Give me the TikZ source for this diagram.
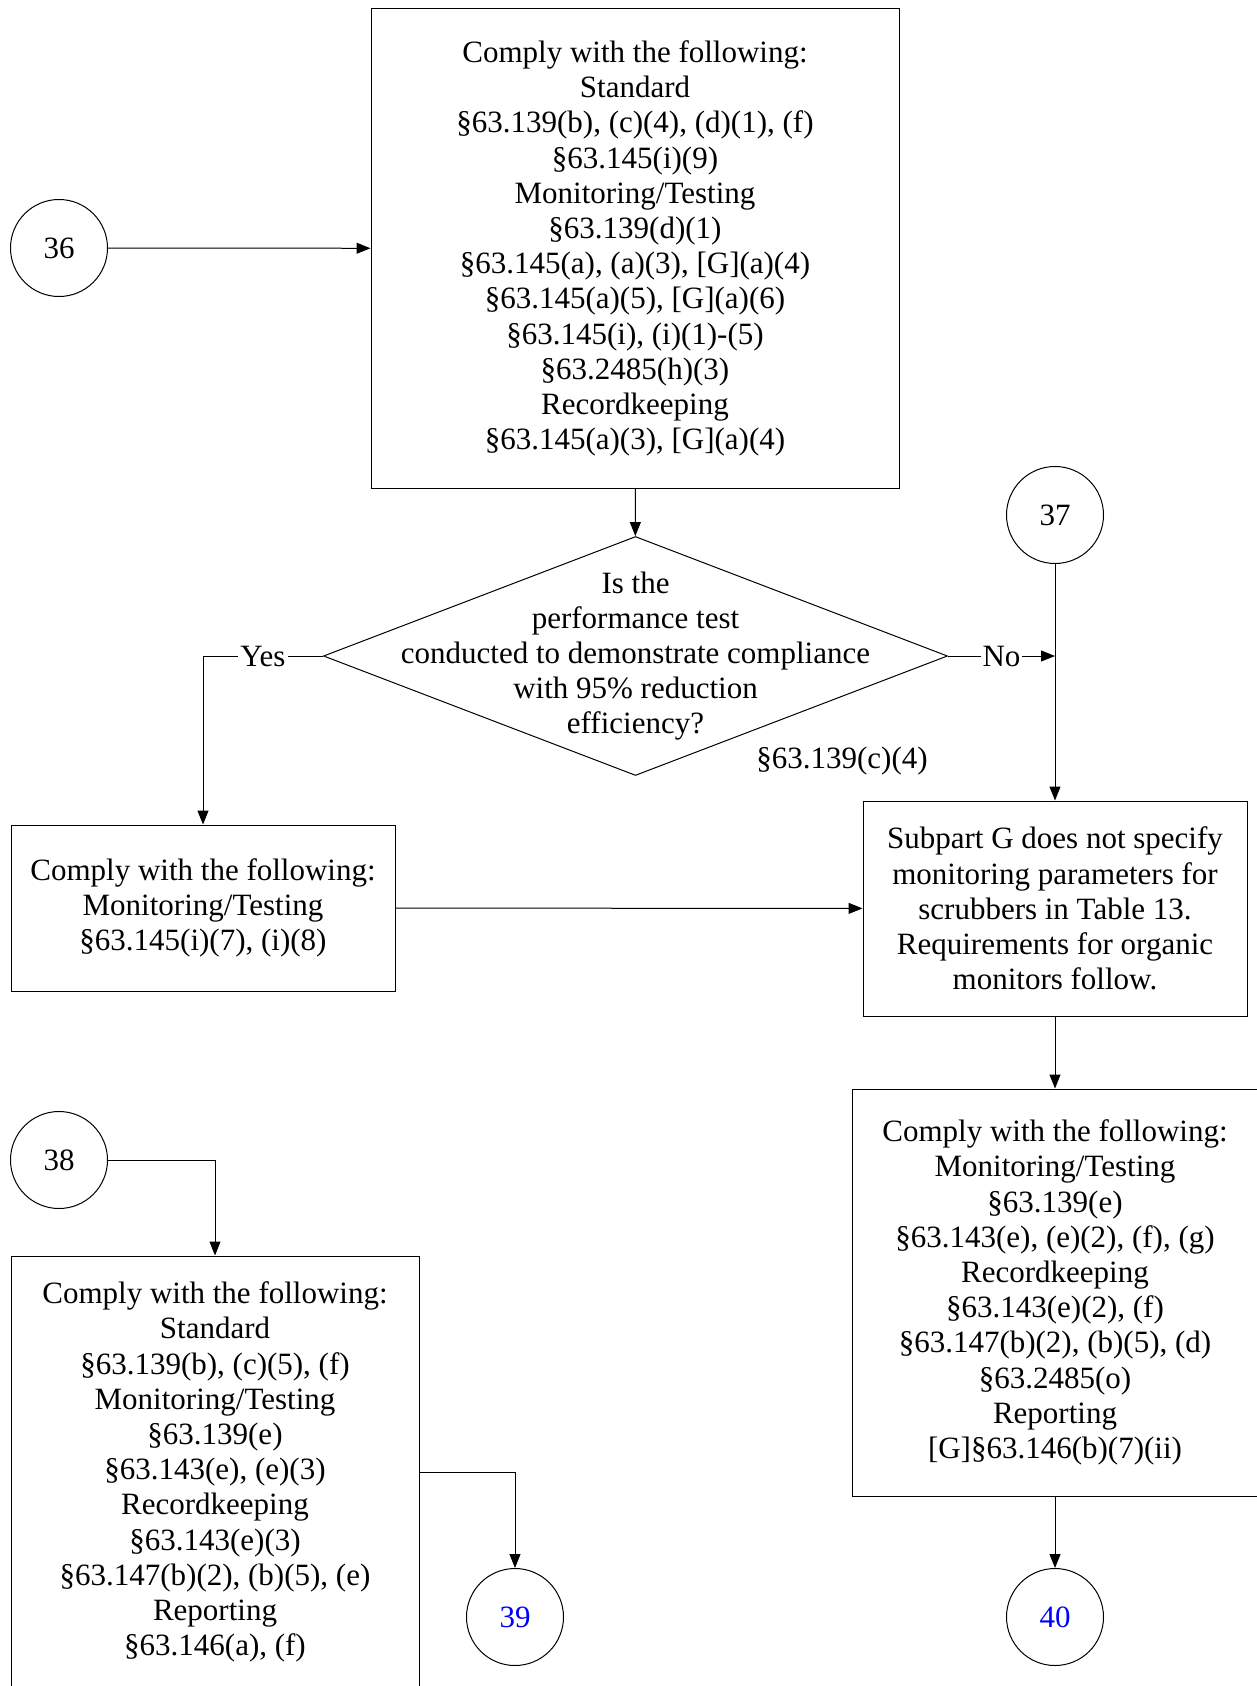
\documentclass[tikz,border=0pt]{standalone}
\usepackage{fontspec}
\setmainfont{Liberation Serif}
\usetikzlibrary{shapes.geometric,arrows.meta}
\newcommand{\letra}{\fontsize{15.5}{17.6}\selectfont}
\tikzstyle{caja} = [draw, rectangle, align=center, inner sep=0pt, line width=0.5pt, font=\letra]
\tikzstyle{conector} = [draw, circle, minimum size=48.5pt, inner sep=0pt, line width=0.5pt, font=\letra]
\tikzstyle{decision} = [draw, diamond, inner sep=0pt, minimum width=312pt, minimum height=119.5pt, line width=0.5pt]
\tikzstyle{flecha} = [line width=0.5pt, -{Triangle[length=7pt,width=5.5pt]}]
\tikzstyle{etiqueta} = [fill=white, inner sep=1pt, font=\letra]

\begin{document}
\begin{tikzpicture}[x=0.5pt,y=-0.5pt]
		\path[use as bounding box, clip] (0,0) rectangle (1257,1686);
		% conectores de entrada
		\node[conector] (c36) at (59,248) {36};
		\node[conector] (c37) at (1055,515) {37};
		\node[conector] (c38) at (59,1160) {38};
		% cajas
		\node[caja, minimum width=264pt, minimum height=239.5pt] (b1) at (635,248.5) {Comply with the following:\\Standard\\§63.139(b), (c)(4), (d)(1), (f)\\§63.145(i)(9)\\Monitoring/Testing\\§63.139(d)(1)\\§63.145(a), (a)(3), [G](a)(4)\\§63.145(a)(5), [G](a)(6)\\§63.145(i), (i)(1)-(5)\\§63.2485(h)(3)\\Recordkeeping\\§63.145(a)(3), [G](a)(4)};
		\node[decision] (dec) at (635.5,656) {};
		\node[align=center, inner sep=0pt, font=\letra] (dectext) at (dec) {Is the\\performance test\\conducted to demonstrate compliance\\with 95\% reduction\\efficiency?};
		\node[font=\letra, inner sep=0pt] (ref) at (842,761) {§63.139(c)(4)};
		\node[caja, minimum width=192pt, minimum height=83pt] (b2) at (203,908) {Comply with the following:\\Monitoring/Testing\\§63.145(i)(7), (i)(8)};
		\node[caja, minimum width=192pt, minimum height=107.5pt] (b3) at (1055,908.5) {Subpart G does not specify\\monitoring parameters for\\scrubbers in Table 13.\\Requirements for organic\\monitors follow.};
		\node[caja, minimum width=203pt, minimum height=203.5pt] (b4) at (1055,1292.5) {Comply with the following:\\Monitoring/Testing\\§63.139(e)\\§63.143(e), (e)(2), (f), (g)\\Recordkeeping\\§63.143(e)(2), (f)\\§63.147(b)(2), (b)(5), (d)\\§63.2485(o)\\Reporting\\{[G]}§63.146(b)(7)(ii)};
		\node[caja, minimum width=204pt, minimum height=216pt] (b5) at (215,1472) {Comply with the following:\\Standard\\§63.139(b), (c)(5), (f)\\Monitoring/Testing\\§63.139(e)\\§63.143(e), (e)(3)\\Recordkeeping\\§63.143(e)(3)\\§63.147(b)(2), (b)(5), (e)\\Reporting\\§63.146(a), (f)};
		% conectores de salida
		\node[conector, text=blue] (c39) at (515,1617) {39};
		\node[conector, text=blue] (c40) at (1055,1617) {40};
		\coordinate (no) at (c37 |- dec);
		% flechas
		\draw[flecha] (c36) -- (b1);
		\draw[flecha] (b1) -- (dec);
		\draw[flecha] (dec.west) -- node[etiqueta]{Yes} (dec.west -| b2) -- (b2);
		\draw[flecha] (dec.east) -- node[etiqueta]{No} (no);
		\draw[flecha] (c37) -- (b3);
		\draw[flecha] (b2) -- (b3);
		\draw[flecha] (b3) -- (b4);
		\draw[flecha] (b4) -- (c40);
		\draw[flecha] (c38) -| (b5);
		\draw[flecha] (b5.east) -| (c39);
	\end{tikzpicture}
\end{document}
